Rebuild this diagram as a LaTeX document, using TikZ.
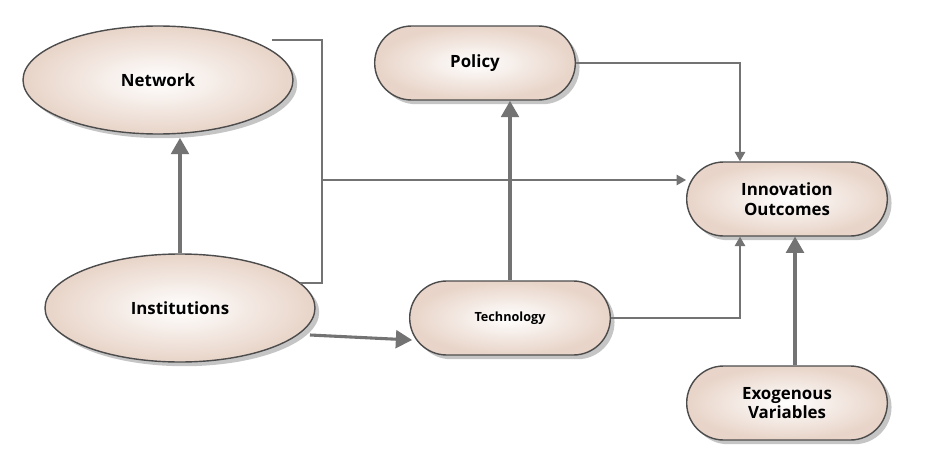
\documentclass[tikz,border=0pt]{standalone}
\usepackage{fontspec}
\setmainfont{Open Sans}
\usetikzlibrary{shapes,arrows,shadows}
\definecolor{mytan}{RGB}{232, 212, 200}

\begin{document}
\begin{tikzpicture}[x=0.025cm,y=-0.025cm]

\tikzstyle{oval} = [ellipse, draw=black!70, line width=1, inner color=white, outer color=mytan,
drop shadow={shadow xshift=3pt,shadow yshift=-3pt,fill=black!45}, minimum width=270*0.025cm, minimum height=108*0.025cm, font=\bfseries\large]
\tikzstyle{pill} = [rounded rectangle, draw=black!70, line width=1, inner color=white, outer color=mytan,
drop shadow={shadow xshift=3pt,shadow yshift=-3pt,fill=black!45}, minimum width=210*0.025cm, minimum height=74*0.025cm, align=center, font=\bfseries\large]
\tikzstyle{thin} = [draw=black!55, line width=0.8]
\tikzstyle{thick} = [draw=black!55, line width=2.2]

\useasboundingbox (0,0) rectangle (928,467);

\node [oval] (net) at (158,80) {Network};
\node [oval] (inst) at (180,308) {Institutions};
\node [pill] (pol) at (475,63) {Policy};
\node [pill] (innov) at (787,199) {Innovation\\Outcomes};
\node [pill, font=\bfseries\small] (tech) at (510,318) {Technology};
\node [pill] (exo) at (787,403) {Exogenous\\Variables};

\coordinate (c0) at (272,40);
\coordinate (c1) at (322,40);
\coordinate (c2) at (322,283);
\coordinate (c4) at (300,283);
\coordinate (c3) at (322,180);
\coordinate (n1) at (180,138);
\coordinate (p1) at (510,101);
\coordinate (i1) at (310,335);
\coordinate (t1) at (412,340);

% thin connectors
\draw[thin] (c0) -- (c1) -- (c2) -- (c4);
\draw[thin,-triangle 60] (c3) -- (innov.west |- c3);
\draw[thin,-triangle 60] (pol.east) -| ([xshift=-47*0.025cm]innov.north);
\draw[thin,-triangle 60] (tech.east) -| ([xshift=-47*0.025cm]innov.south);

% thick connectors
\draw[thick,-triangle 60] (inst.north) -- (n1);
\draw[thick,-triangle 60] (tech.north) -- (p1);
\draw[thick,-triangle 60] (exo.north) ++(8,0) -- ([xshift=8*0.025cm]innov.south);
\draw[thick,-triangle 60] (i1) -- (t1);

\end{tikzpicture}
\end{document}
